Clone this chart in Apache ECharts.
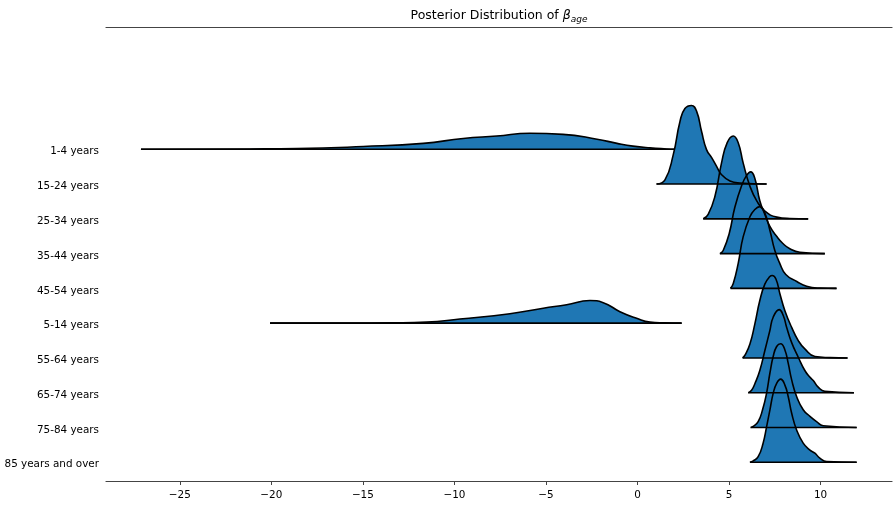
<!DOCTYPE html>
<html>
<head>
<meta charset="utf-8">
<script src="https://cdn.jsdelivr.net/npm/echarts@6/dist/echarts.min.js"></script>
<style>html,body{margin:0;padding:0;background:#fff}#c{width:895px;height:505px}</style>
</head>
<body>
<div id="c"></div>
<script>
// Category labels, top to bottom
const categories = ['1-4 years','15-24 years','25-34 years','35-44 years','45-54 years','5-14 years','55-64 years','65-74 years','75-84 years','85 years and over'];
// x tick labels
const xTicks = [-25,-20,-15,-10,-5,0,5,10];

// Each row: x positions (beta_age) and density heights (in row-spacing units)
const x_1_4  = [-27.12,-21.17,-18.60,-14.98,-11.70,-9.52,-7.69,-5.88,-4.07,-2.21,-1.12,-0.25,0.68,1.60,2.04];
const d_1_4  = [0,0.01,0.02,0.08,0.17,0.31,0.38,0.46,0.43,0.29,0.17,0.09,0.04,0.01,0];

const x_15_24 = [1.04,1.50,1.95,2.32,2.59,2.95,3.23,3.50,3.77,4.05,4.32,4.59,5.05,5.59,7.05];
const d_15_24 = [0,0.12,0.84,1.80,2.17,2.26,2.09,1.51,0.99,0.76,0.51,0.27,0.09,0.03,0];

const x_25_34 = [3.59,3.86,4.23,4.59,4.90,5.23,5.50,5.77,6.14,6.52,6.96,7.61,8.32,9.32];
const d_25_34 = [0,0.13,0.65,1.61,2.19,2.38,2.19,1.61,0.94,0.51,0.22,0.05,0.01,0];

const x_35_44 = [4.50,4.68,5.01,5.32,5.69,5.96,6.18,6.41,6.68,6.96,7.23,7.61,7.94,8.32,8.87,10.23];
const d_35_44 = [0,0.09,0.58,1.34,1.96,2.25,2.35,2.16,1.52,1.12,0.78,0.49,0.29,0.14,0.04,0];

const x_45_54 = [5.08,5.23,5.50,5.77,6.14,6.41,6.68,6.96,7.23,7.50,7.77,8.10,8.70,9.24,9.95,10.87];
const d_45_54 = [0,0.14,0.72,1.48,2.06,2.27,2.35,2.16,1.67,1.09,0.72,0.40,0.20,0.06,0.01,0];

const x_5_14 = [-20.07,-16.0,-13.34,-11.52,-9.70,-6.97,-5.15,-3.87,-2.60,-1.87,-0.96,-0.05,0.68,1.50,2.41];
const d_5_14 = [0,0.003,0.01,0.03,0.12,0.27,0.43,0.53,0.65,0.59,0.33,0.14,0.03,0.01,0];

const x_55_64 = [5.74,5.87,6.14,6.41,6.68,6.96,7.23,7.36,7.56,7.78,8.05,8.42,8.78,9.14,9.69,10.51,11.47];
const d_55_64 = [0,0.08,0.40,0.98,1.65,2.13,2.34,2.37,2.27,1.84,1.36,0.88,0.50,0.26,0.04,0.01,0];

const x_65_74 = [6.05,6.23,6.41,6.68,6.96,7.23,7.41,7.74,7.96,8.14,8.42,8.78,9.14,9.41,9.60,9.87,10.23,11.82];
const d_65_74 = [0,0.07,0.26,0.64,1.22,1.79,2.17,2.39,2.22,1.89,1.44,1.02,0.64,0.45,0.35,0.16,0.04,0];

const x_75_84 = [6.18,6.32,6.59,6.83,7.05,7.23,7.41,7.60,7.82,8.05,8.23,8.42,8.69,9.05,9.42,9.78,10.14,11.97];
const d_75_84 = [0,0.03,0.17,0.51,0.99,1.56,2.04,2.33,2.41,2.23,1.85,1.37,0.89,0.51,0.32,0.17,0.05,0];

const x_85 = [6.14,6.32,6.59,6.86,7.05,7.23,7.41,7.60,7.82,8.05,8.23,8.42,8.69,9.05,9.42,9.69,9.96,10.33,11.97];
const d_85 = [0,0.04,0.16,0.55,1.02,1.50,1.98,2.27,2.39,2.22,1.89,1.41,0.93,0.55,0.35,0.26,0.12,0.02,0];

const rowX = [x_1_4,x_15_24,x_25_34,x_35_44,x_45_54,x_5_14,x_55_64,x_65_74,x_75_84,x_85];
const rowD = [d_1_4,d_15_24,d_25_34,d_35_44,d_45_54,d_5_14,d_55_64,d_65_74,d_75_84,d_85];

const FONT = 'DejaVu Sans';
const n = categories.length;
const series = [];
for (let i = 0; i < n; i++) {
  const base = n - 1 - i;
  const xs = rowX[i], ds = rowD[i];
  series.push({
    type: 'line',
    data: xs.map((x, j) => [x, base + ds[j]]),
    showSymbol: false,
    smooth: 0.5,
    lineStyle: { color: '#000', width: 1.6, join: 'round' },
    areaStyle: { color: '#1f77b4', opacity: 1, origin: base },
    animation: false,
    silent: true
  });
  series.push({
    type: 'line',
    data: [[xs[0], base], [xs[xs.length - 1], base]],
    showSymbol: false,
    lineStyle: { color: '#000', width: 1.6 },
    animation: false,
    silent: true
  });
}
// label anchors: a little below each baseline, as in the reference
const labelPos = categories.map((c, i) => n - 1 - i - 0.07);

const chart = echarts.init(document.getElementById('c'), null, { renderer: 'canvas' });
chart.setOption({
  animation: false,
  backgroundColor: '#fff',
  textStyle: { fontFamily: FONT },
  grid: { left: 106, right: 3, top: 27, bottom: 24, containLabel: false },
  xAxis: [{
    type: 'value', min: -29.03, max: 13.9, position: 'bottom',
    axisLine: { show: true, onZero: false, lineStyle: { color: '#444', width: 1.2 } },
    axisTick: { show: true, length: 4, lineStyle: { color: '#444', width: 1 }, customValues: xTicks },
    axisLabel: { customValues: xTicks, color: '#000', fontSize: 10.4, fontFamily: FONT, margin: 9,
      formatter: v => (v < 0 ? '\u2212' + (-v) : String(v)) },
    splitLine: { show: false }
  }, {
    type: 'value', min: -29.03, max: 13.9, position: 'top',
    axisLine: { show: true, onZero: false, lineStyle: { color: '#444', width: 1.2 } },
    axisTick: { show: false }, axisLabel: { show: false }, splitLine: { show: false }
  }],
  yAxis: {
    type: 'value', min: -0.538, max: 12.516,
    axisLine: { show: false }, axisTick: { show: false }, splitLine: { show: false },
    axisLabel: { customValues: labelPos, color: '#000', fontSize: 10.4, fontFamily: FONT, margin: 7,
      formatter: v => categories[n - 1 - Math.round(v)] }
  },
  graphic: [{
    type: 'text', x: 499, y: 9,
    style: {
      text: '{a|Posterior Distribution of }{b|β}{c|age}',
      align: 'center', verticalAlign: 'top',
      rich: {
        a: { fontSize: 12.5, fontFamily: FONT, fill: '#000', lineHeight: 15, verticalAlign: 'top' },
        b: { fontSize: 12.5, fontFamily: FONT, fill: '#000', fontStyle: 'italic', lineHeight: 15, verticalAlign: 'top' },
        c: { fontSize: 9, fontFamily: FONT, fill: '#000', fontStyle: 'italic', lineHeight: 12, verticalAlign: 'bottom' }
      }
    }
  }],
  series: series
});
</script>
</body>
</html>
